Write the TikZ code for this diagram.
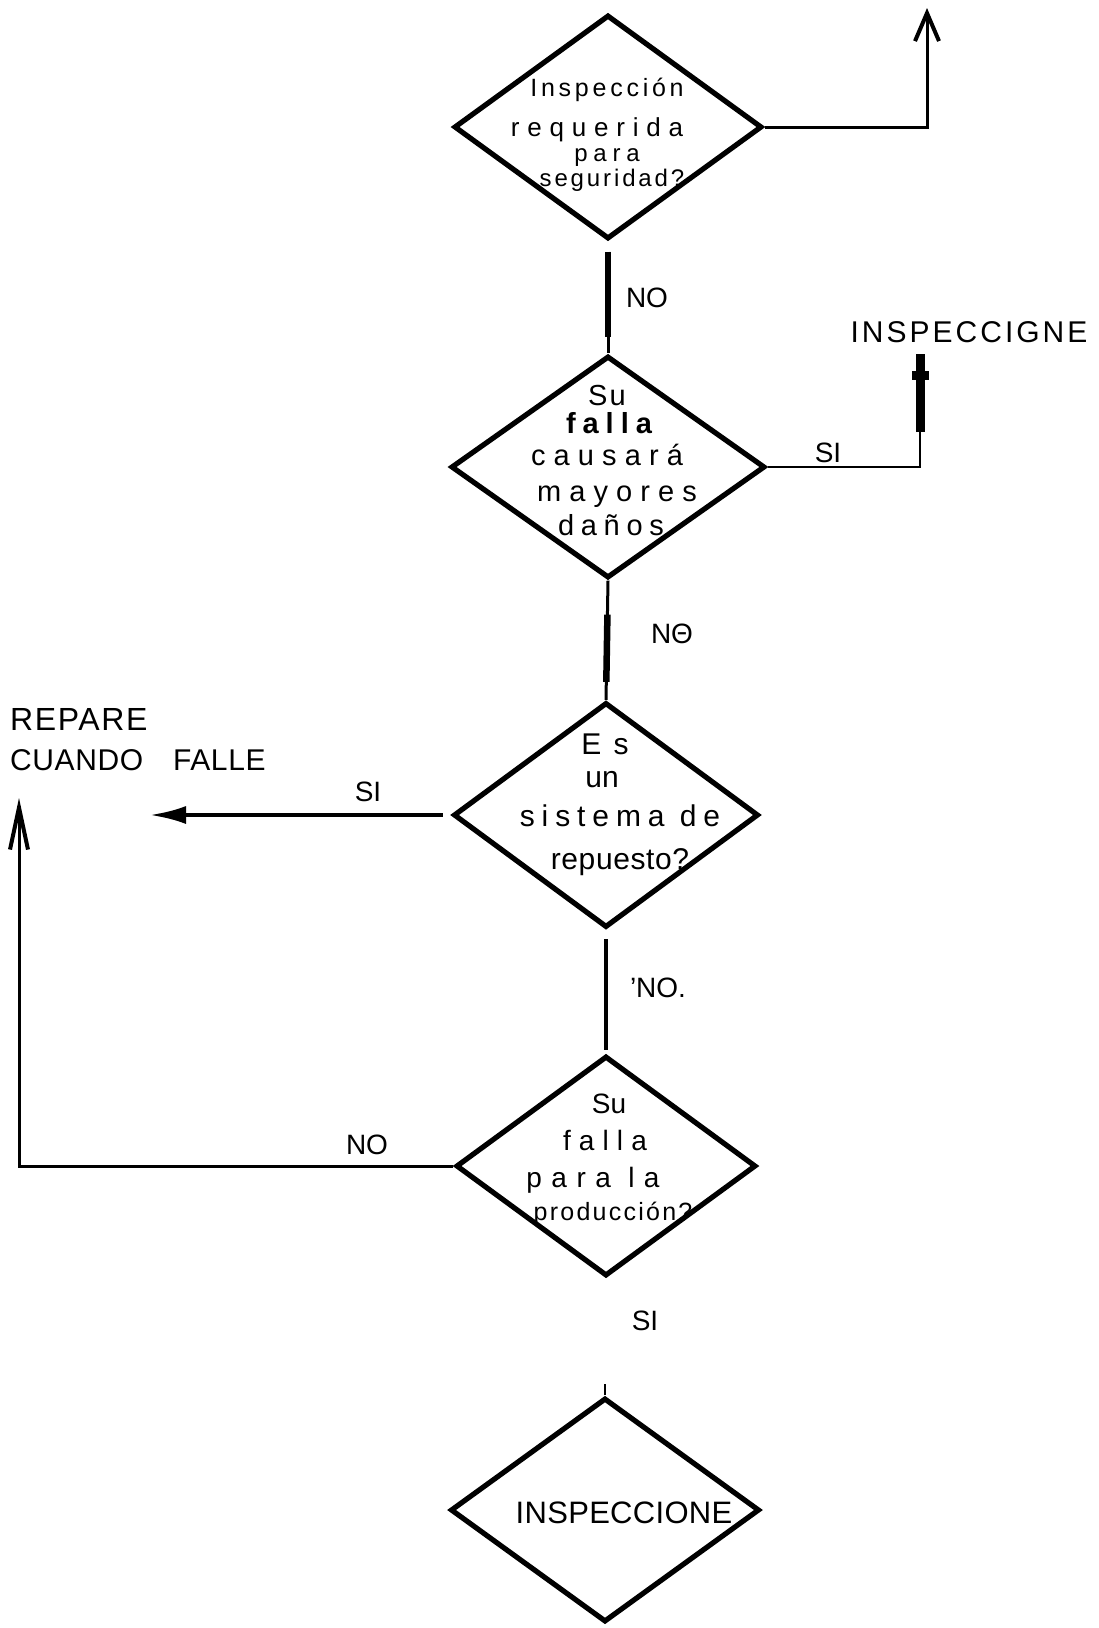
\documentclass[tikz,border=0pt]{standalone}
\usepackage{fontspec}
\setmainfont{Liberation Sans}
\usetikzlibrary{shapes.geometric,arrows.meta}
% font size and letter tracking helpers
\newcommand{\sz}[1]{\fontsize{#1}{#1}\selectfont}
\newcommand{\trk}[1]{\addfontfeature{LetterSpace=#1}}

\begin{document}
\begin{tikzpicture}[x=1pt,y=-1pt,
  decision/.style={draw, diamond, line width=5.2pt, minimum width=308pt,
    minimum height=224pt, inner sep=0pt},
  txt/.style={anchor=base, inner sep=0pt},
  lbl/.style={anchor=base, inner sep=0pt, font=\sz{28}},
  conn/.style={line width=3pt},
  thinconn/.style={line width=2.2pt},
  boldconn/.style={line width=6.5pt},
  openhead/.style={-{Straight Barb[length=28pt,width=24pt,line width=4pt]}},
  longhead/.style={-{Straight Barb[length=42pt,width=18pt,line width=4pt]}},
  solidhead/.style={-{Latex[length=36pt,width=18pt]}}
]
\useasboundingbox (0,0) rectangle (1098,1628);

% decision diamonds
\node[decision] (d1) at (608,127) {};
\node[decision, minimum width=314pt, minimum height=222pt] (d2) at (608,467) {};
\node[decision, minimum width=305pt, minimum height=225pt] (d3) at (606,815) {};
\node[decision, minimum width=300pt, minimum height=220pt] (d4) at (606,1166) {};
\node[decision, minimum width=309pt, minimum height=224pt] (d5) at (605,1510) {};

% text of the first question
\node[txt, font=\sz{25}\trk{15}] (q1a) at (607,96)  {Inspección};
\node[txt, font=\sz{26}\trk{30}] (q1b) at (597,136) {requerida};
\node[txt, font=\sz{24}\trk{24}] (q1c) at (607,161) {para};
\node[txt, font=\sz{24}\trk{12}] (q1d) at (612,186) {seguridad?};

% text of the second question
\node[txt, font=\sz{29}\trk{8}] (q2a) at (607,405) {Su};
\node[txt, font=\sz{29}\bfseries\trk{24}] (q2b) at (609,433) {falla};
\node[txt, font=\sz{29}\trk{28}] (q2c) at (607,465) {causará};
\node[txt, font=\sz{29}\trk{28}] (q2d) at (617,501) {mayores};
\node[txt, font=\sz{29}\trk{23}] (q2e) at (611,535) {daños};

% text of the third question
\node[txt, font=\sz{30}\trk{13}] (q3a) at (605,754) {E s};
\node[txt, font=\sz{30}] (q3b) at (602,787) {un};
\node[txt, font=\sz{30}\trk{23}] (q3c) at (620,826) {sistema de};
\node[txt, font=\sz{30}\trk{2}] (q3d) at (620,869) {repuesto?};

% text of the fourth question
\node[txt, font=\sz{28}] (q4a) at (609,1113) {Su};
\node[txt, font=\sz{28}\trk{29}] (q4b) at (605,1150) {falla};
\node[txt, font=\sz{28}\trk{34}] (q4c) at (593,1187) {para la};
\node[txt, font=\sz{25}\trk{9}] (q4d) at (613,1220) {producción?};

% final action
\node[txt, font=\sz{31}\trk{1}] (q5a) at (624,1523) {INSPECCIONE};

% free-standing actions
\node[txt, font=\sz{30}\trk{10}] (insp) at (969,342) {INSPECCIGNE};
\node[txt, anchor=base west, font=\sz{32}\trk{5}] (rep1) at (10,730) {REPARE};
\node[txt, anchor=base west, font=\sz{30}\trk{2}] (rep2) at (10,770) {CUANDO\ \hspace{21pt}FALLE};

% branch labels
\node[lbl] (l1) at (647,307) {NO};
\node[lbl] (l2) at (828,462) {SI};
\node[lbl] (l3) at (672,643) {NΘ};
\node[lbl] (l4) at (368,801) {SI};
\node[lbl] (l5) at (658,997) {'NO.};
\node[lbl] (l6) at (367,1154) {NO};
\node[lbl] (l7) at (645,1330) {SI};

% free ends of connectors
\coordinate (topEnd) at (927,8);
\coordinate (tBase) at (920,432);
\coordinate (tTop) at (920,354);
\coordinate (repTip) at (150,809);
\coordinate (upTip) at (19,798);
\coordinate (tick) at (605,1384);

% first question: yes branch upward
\draw[conn, openhead] (d1.east) -| (topEnd);

% first to second question
\draw[conn, shorten <=10pt] (d1.south) -- (d2.north);
\draw[boldconn, shorten <=10pt, shorten >=16pt] (d1.south) -- (d2.north);

% second question: yes branch to inspection
\draw[thinconn] (d2.east) -| (tBase);
\draw[line width=9pt] (tBase) -- (tTop);
\draw[line width=9pt] ([shift={(-8,21)}]tTop) -- ([shift={(9,21)}]tTop);

% second to third question
\draw[conn] (d2.south) -- (d3.north);
\draw[boldconn, shorten <=34pt, shorten >=18pt] (d2.south) -- (d3.north);

% third question: yes branch to repair
\draw[line width=4pt, shorten <=8pt, solidhead] (d3.west) -- (d3.west -| repTip);

% third to fourth question
\draw[line width=4pt, shorten <=9pt, shorten >=3pt] (d3.south) -- (d4.north);

% fourth question: no branch back to repair
\draw[conn, longhead] (d4.west) -| (upTip);

% stub above the final action
\draw[line width=2.5pt] (d5.north) -- (tick);
\end{tikzpicture}
\end{document}
